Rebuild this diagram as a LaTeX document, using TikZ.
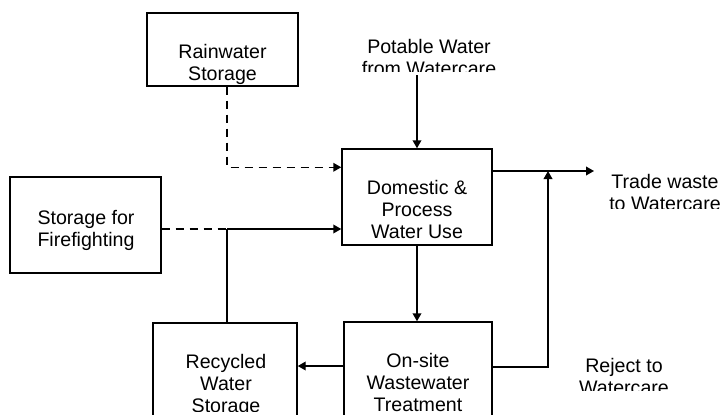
\documentclass[tikz,border=0pt]{standalone}
\usepackage{fontspec}
\setmainfont{Liberation Sans}
\usetikzlibrary{arrows.meta}

\tikzset{
  box/.style={draw, line width=1.1pt, inner sep=0pt},
  boxtext/.style={anchor=base, align=center, inner sep=0pt},
  pipe/.style={line width=1.1pt},
  flow/.style={pipe, -{Triangle[length=6pt,width=6.5pt]}},
  feed/.style={pipe, dash pattern=on 6pt off 4.5pt},
}

\begin{document}
\begin{tikzpicture}[x=0.75pt,y=-0.75pt]
                    \useasboundingbox (0,0) rectangle (723,414);
                    {\fontsize{14.7pt}{16.5pt}\selectfont

                    % Drawing box Rainwater Storage
                    \node [box, minimum width=113.25pt, minimum height=54.75pt] (rain) at (222.5,49.5) {};
                    \begin{scope}
                    \clip (147,13) rectangle (298,84);
                    \node [boxtext] (rainTxt) at (222.5,80) {Rainwater\\Storage};
                    \end{scope}

                    % Marking text Potable Water
                    \begin{scope}
                    \clip (340,20) rectangle (520,71);
                    \node [boxtext] (potTxt) at (429,75) {Potable Water\\from Watercare};
                    \end{scope}

                    % Drawing box Domestic & Process Water Use
                    \node [box, minimum width=112.5pt, minimum height=72pt] (dom) at (417,197) {};
                    \begin{scope}
                    \clip (342,149) rectangle (492,239);
                    \node [boxtext] (domTxt) at (417,238) {Domestic \&\\Process\\Water Use};
                    \end{scope}

                    % Marking text Trade waste
                    \begin{scope}
                    \clip (600,160) rectangle (723,208);
                    \node [boxtext] (tradeTxt) at (665,210) {Trade waste\\to Watercare};
                    \end{scope}

                    % Drawing box Storage for Firefighting
                    \node [box, minimum width=113.25pt, minimum height=72pt] (fire) at (85.5,225) {};
                    \node [boxtext] (fireTxt) at (86,246) {Storage for\\Firefighting};

                    % Drawing box Recycled Water Storage
                    \node [box, minimum width=108pt, minimum height=72pt] (rec) at (225,371) {};
                    \begin{scope}
                    \clip (153,323) rectangle (297,411);
                    \node [boxtext] (recTxt) at (226,412) {Recycled\\Water\\Storage};
                    \end{scope}

                    % Drawing box On-site Wastewater Treatment
                    \node [box, minimum width=111pt, minimum height=72pt] (ons) at (418,370) {};
                    \begin{scope}
                    \clip (344,322) rectangle (492,411);
                    \node [boxtext] (onsTxt) at (418,411) {On-site\\Wastewater\\Treatment};
                    \end{scope}

                    % Marking text Reject to Watercare
                    \begin{scope}
                    \clip (570,340) rectangle (690,390);
                    \node [boxtext] (rejTxt) at (624,394) {Reject to\\Watercare};
                    \end{scope}

                    % Marking junction points
                    \coordinate (tee) at (227,229);
                    \coordinate (merge) at (548,171);
                    \coordinate (outEnd) at (594,171);

                    % Drawing flow Potable Water to Domestic
                    \draw [flow] (potTxt.base -| dom.north) -- (dom.north);

                    % Drawing flow Rainwater to Domestic
                    \draw [feed, -{Triangle[length=6pt,width=6.5pt]}] ([xshift=3.4pt]rain.south) |- ([yshift=-14.25pt]dom.north west);

                    % Drawing flow Firefighting and Recycled to Domestic
                    \draw [feed] (fire.east |- tee) -- (tee);
                    \draw [flow] (tee) -- (tee -| dom.west);
                    \draw [pipe] (rec.north -| tee) -- (tee);

                    % Drawing flow Domestic to Treatment
                    \draw [flow] (dom.south) -- (dom.south |- ons.north);

                    % Drawing flow Treatment to Recycled
                    \draw [flow] ([yshift=3pt]ons.west) -- ([yshift=3pt]ons.west -| rec.east);

                    % Drawing flow Reject and Trade waste
                    \draw [flow] ([yshift=2.25pt]ons.east) -| (merge);
                    \draw [flow] (dom.east |- merge) -- (outEnd);
                    }
\end{tikzpicture}
\end{document}
